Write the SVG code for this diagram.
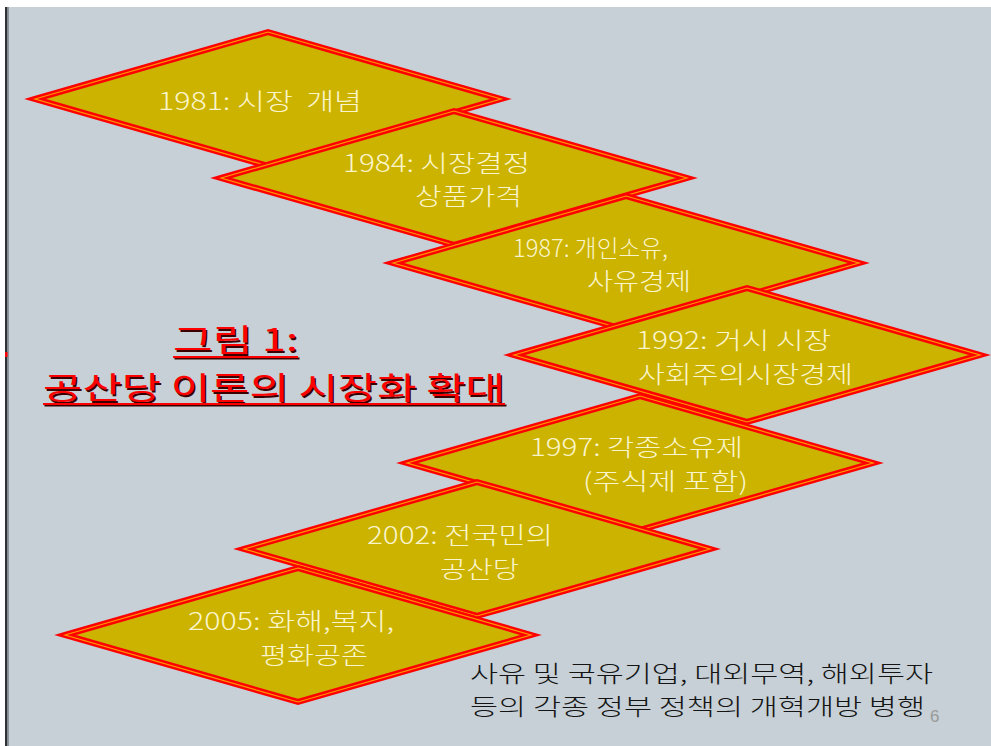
<svg xmlns="http://www.w3.org/2000/svg" width="991" height="746" viewBox="0 0 991 746">
<defs>
<style>
.dia-o{fill:#cbb300;stroke:#ff0000;stroke-width:6;stroke-linejoin:miter;stroke-miterlimit:10}
.dia-i{fill:none;stroke:#ff9a00;stroke-width:1.2;stroke-linejoin:miter;stroke-miterlimit:10}
.lbl{font-family:"Noto Sans CJK KR","Liberation Sans",sans-serif;font-size:24px;font-weight:300;fill:#fbf5cc}
.ttl{font-family:"Noto Sans CJK KR","Liberation Sans",sans-serif;font-size:31px;font-weight:400}
.note{font-family:"Noto Sans CJK KR","Liberation Sans",sans-serif;font-size:23px;font-weight:300;fill:#141414}
</style>
<polygon id="dshape" points="-233,0 0,-67 233,0 0,67"/>
</defs>
<rect x="0" y="0" width="991" height="746" fill="#ffffff"/>
<rect x="5" y="7" width="986" height="739" fill="#c6d0d6"/>
<rect x="5" y="7" width="2.5" height="739" fill="#2e3034"/>
<rect x="7.5" y="7" width="1.5" height="739" fill="#8d959c"/>
<rect x="5" y="352" width="2.5" height="5" fill="#ff0000"/>

<g id="node-1981">
<use href="#dshape" x="268" y="99" class="dia-o"/>
<use href="#dshape" x="268" y="99" class="dia-i"/>
<text class="lbl" x="158" y="110" textLength="204" lengthAdjust="spacingAndGlyphs" xml:space="preserve">1981: 시장  개념</text>
</g>
<g id="node-1984">
<use href="#dshape" x="454" y="178" class="dia-o"/>
<use href="#dshape" x="454" y="178" class="dia-i"/>
<text class="lbl" x="343" y="172" textLength="187" lengthAdjust="spacingAndGlyphs">1984: 시장결정</text>
<text class="lbl" x="415" y="205" textLength="107" lengthAdjust="spacingAndGlyphs">상품가격</text>
</g>
<g id="node-1987">
<use href="#dshape" x="626" y="263" class="dia-o"/>
<use href="#dshape" x="626" y="263" class="dia-i"/>
<text class="lbl" x="513" y="257" textLength="155" lengthAdjust="spacingAndGlyphs">1987: 개인소유,</text>
<text class="lbl" x="587" y="290" textLength="104" lengthAdjust="spacingAndGlyphs">사유경제</text>
</g>
<g id="node-1992">
<use href="#dshape" x="747" y="355" class="dia-o"/>
<use href="#dshape" x="747" y="355" class="dia-i"/>
<text class="lbl" x="636" y="349" textLength="195" lengthAdjust="spacingAndGlyphs">1992: 거시 시장</text>
<text class="lbl" x="638" y="383" textLength="215" lengthAdjust="spacingAndGlyphs">사회주의시장경제</text>
</g>
<g id="node-1997">
<use href="#dshape" x="640" y="463" class="dia-o"/>
<use href="#dshape" x="640" y="463" class="dia-i"/>
<text class="lbl" x="530" y="456" textLength="213" lengthAdjust="spacingAndGlyphs">1997: 각종소유제</text>
<text class="lbl" x="583" y="490" textLength="165" lengthAdjust="spacingAndGlyphs">(주식제 포함)</text>
</g>
<g id="node-2002">
<use href="#dshape" x="477" y="549" class="dia-o"/>
<use href="#dshape" x="477" y="549" class="dia-i"/>
<text class="lbl" x="367" y="544" textLength="186" lengthAdjust="spacingAndGlyphs">2002: 전국민의</text>
<text class="lbl" x="440" y="578" textLength="79" lengthAdjust="spacingAndGlyphs">공산당</text>
</g>
<g id="node-2005">
<use href="#dshape" x="298" y="635" class="dia-o"/>
<use href="#dshape" x="298" y="635" class="dia-i"/>
<text class="lbl" x="188" y="630" textLength="206" lengthAdjust="spacingAndGlyphs">2005: 화해,복지,</text>
<text class="lbl" x="260" y="664" textLength="108" lengthAdjust="spacingAndGlyphs">평화공존</text>
</g>

<g id="title">
<g fill="#3a0000" transform="translate(1.5,1.5)">
<text class="ttl" x="173" y="351" textLength="125" lengthAdjust="spacingAndGlyphs">그림 1:</text>
<text class="ttl" x="43" y="399" textLength="462" lengthAdjust="spacingAndGlyphs">공산당 이론의 시장화 확대</text>
<rect x="173" y="356" width="125" height="2"/>
<rect x="43" y="403" width="462" height="2"/>
</g>
<g fill="#ff0000">
<text class="ttl" x="173" y="351" textLength="125" lengthAdjust="spacingAndGlyphs">그림 1:</text>
<text class="ttl" x="43" y="399" textLength="462" lengthAdjust="spacingAndGlyphs">공산당 이론의 시장화 확대</text>
<rect x="173" y="356" width="125" height="2"/>
<rect x="43" y="403" width="462" height="2"/>
</g>
</g>

<g id="note">
<text class="note" x="470" y="682" textLength="463" lengthAdjust="spacingAndGlyphs">사유 및 국유기업, 대외무역, 해외투자</text>
<text class="note" x="470" y="715" textLength="455" lengthAdjust="spacingAndGlyphs">등의 각종 정부 정책의 개혁개방 병행</text>
<text x="930" y="722" font-family="Liberation Sans, sans-serif" font-size="17" fill="#9a9a9a">6</text>
</g>
</svg>
